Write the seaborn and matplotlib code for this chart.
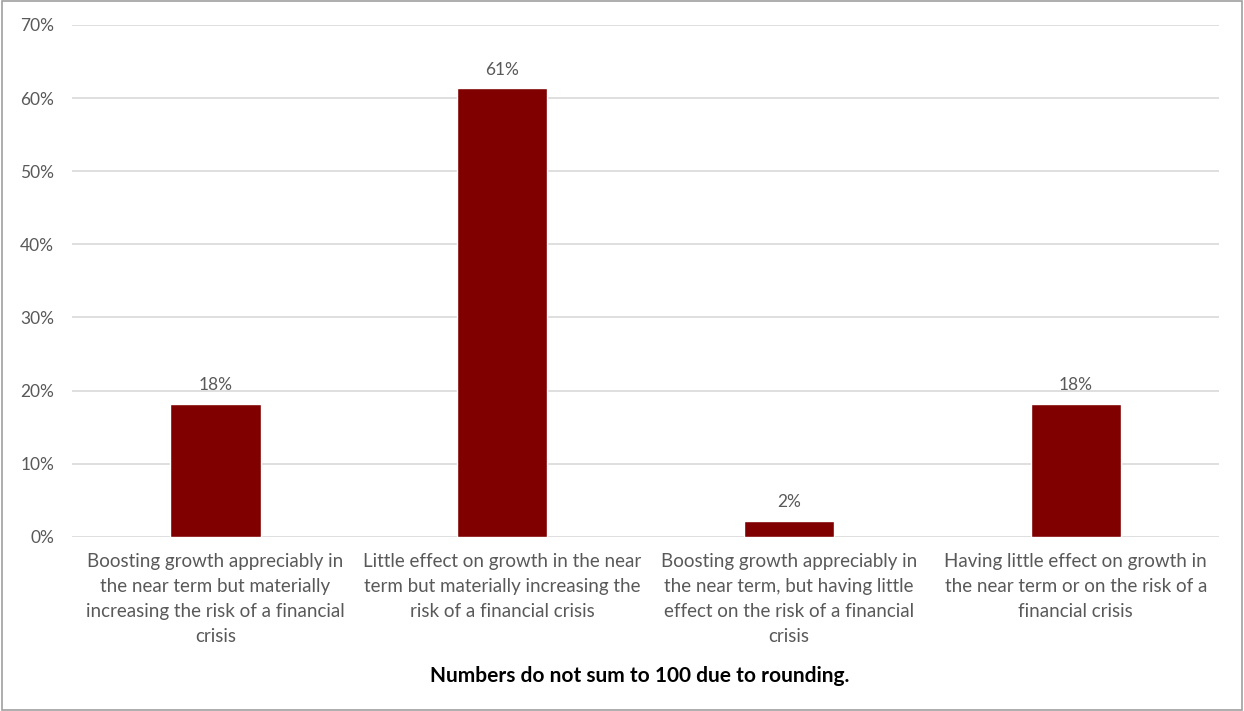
import matplotlib
matplotlib.use("Agg")
import matplotlib.pyplot as plt
import matplotlib.ticker as mticker
import seaborn as sns
import pandas as pd

# survey answers (share of respondents, %)
categories = [
    "Boosting growth appreciably in\nthe near term but materially\nincreasing the risk of a financial\ncrisis",
    "Little effect on growth in the near\nterm but materially increasing the\nrisk of a financial crisis",
    "Boosting growth appreciably in\nthe near term, but having little\neffect on the risk of a financial\ncrisis",
    "Having little effect on growth in\nthe near term or on the risk of a\nfinancial crisis",
]
shares = [18.2, 61.4, 2.2, 18.2]
y_ticks = [0, 10, 20, 30, 40, 50, 60, 70]
note = "Numbers do not sum to 100 due to rounding."

df = pd.DataFrame({"category": categories, "share": shares})

sns.set_style("white")
plt.rcParams['font.family'] = ['Lato', 'DejaVu Sans']

grey = "#595959"
bar_col = "#800000"

fig = plt.figure(figsize=(12.44, 7.11), dpi=100)
ax = fig.add_axes([0.058, 0.245, 0.922, 0.72])

sns.barplot(data=df, x="category", y="share", color=bar_col, width=0.315,
            saturation=1, ax=ax, zorder=3)

ax.set_ylim(0, 70)
ax.set_xlim(-0.5, len(categories) - 0.5)
ax.set_yticks(y_ticks)
ax.yaxis.set_major_formatter(mticker.FuncFormatter(lambda v, p: f"{v:.0f}%"))
ax.grid(axis="y", color="#d9d9d9", linewidth=1.2, zorder=0)
ax.grid(axis="x", visible=False)
for s in ax.spines.values():
    s.set_visible(False)
ax.tick_params(axis="y", length=0, colors=grey, labelsize=12.5, pad=13)
ax.tick_params(axis="x", length=0, colors=grey, labelsize=13.5, pad=12)
ax.set_xticks(range(len(categories)))
ax.set_xticklabels(categories, linespacing=1.55)
ax.set_xlabel("")
ax.set_ylabel("")

for i, v in enumerate(shares):
    ax.text(i, v + 1.4, f"{v:.0f}%", ha="center", va="bottom",
            color=grey, fontsize=12.5)

fig.text(0.514, 0.049, note, ha="center", va="center",
         fontsize=15, fontweight="bold", color="black")

# outer frame like the original export
frame = plt.Rectangle((0.0015, 0.002), 0.997, 0.996, transform=fig.transFigure,
                      fill=False, edgecolor="#a0a0a0", linewidth=1.2)
fig.patches.append(frame)

fig.savefig("out.png", dpi=100)
